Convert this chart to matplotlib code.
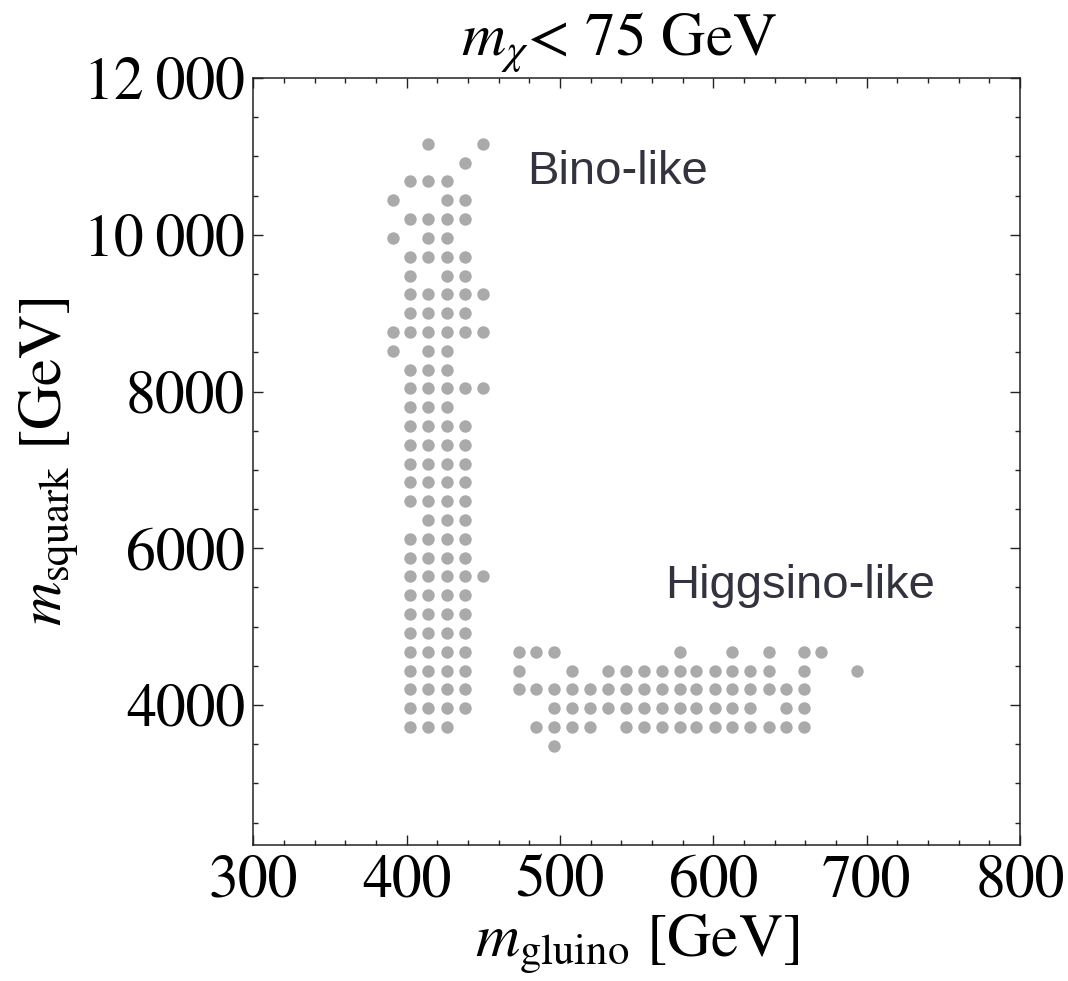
import matplotlib
matplotlib.use('Agg')
import matplotlib.pyplot as plt
from matplotlib.ticker import MultipleLocator, FuncFormatter

# gluino mass columns of the Bino-like block [GeV]
c0, c1, c2, c3, c4, c5 = 391, 402.5, 414, 426, 438, 449.5

# Bino-like points, one entry per squark-mass row
bino_squark = [3720, 3960, 4200, 4440, 4680, 4920, 5160, 5400, 5640, 5880,
               6120, 6360, 6600, 6840, 7080, 7320, 7560, 7800, 8040, 8280,
               8520, 8760, 9000, 9240, 9480, 9720, 9960, 10200, 10440, 10680,
               10920, 11160]
bino_gluino = [
    [c1, c2, c3],
    [c1, c2, c3, c4],
    [c1, c2, c3, c4],
    [c1, c2, c3, c4],
    [c1, c2, c3, c4],
    [c1, c2, c3, c4],
    [c1, c2, c3, c4],
    [c1, c2, c3, c4],
    [c1, c2, c3, c4, c5],
    [c1, c2, c3, c4],
    [c1, c2, c3, c4],
    [c2, c3, c4],
    [c1, c2, c3, c4],
    [c1, c2, c3, c4],
    [c1, c2, c3, c4],
    [c1, c2, c3, c4],
    [c1, c2, c3, c4],
    [c1, c2, c3],
    [c1, c2, c3, c4, c5],
    [c1, c2, c3],
    [c0, c2, c3],
    [c0, c1, c2, c3, c4, c5],
    [c1, c2, c3, c4],
    [c1, c2, c3, c4, c5],
    [c1, c3, c4],
    [c1, c2, c3, c4],
    [c0, c2, c3],
    [c1, c2, c3, c4],
    [c0, c3, c4],
    [c1, c2, c3],
    [c4],
    [c2, c5],
]

# Higgsino-like points
higgs_squark = [3480, 3720, 3960, 4200, 4440, 4680]
higgs_gluino = [
    [496],
    [484.5, 496, 508, 519.5, 543, 555, 566.5, 578, 589, 601, 612.5, 624, 636, 647.5, 659],
    [496, 508, 519.5, 531.5, 543, 555, 566.5, 578, 589, 601, 612.5, 624, 647.5, 659],
    [473, 484.5, 496, 508, 519.5, 531.5, 543, 555, 566.5, 578, 589, 601, 612.5, 624, 636, 647.5, 659],
    [473, 508, 531.5, 543, 555, 566.5, 578, 589, 601, 612.5, 624, 636, 659, 694],
    [473, 484.5, 496, 578, 612.5, 636, 659, 670.5],
]

def flatten(ys, xs_rows):
    px, py = [], []
    for y, xs in zip(ys, xs_rows):
        for x in xs:
            px.append(x)
            py.append(y)
    return px, py

plt.rcParams['font.family'] = ['STIXGeneral', 'DejaVu Serif']
plt.rcParams['mathtext.fontset'] = 'stix'

W, H = 1068, 981
fig = plt.figure(figsize=(W / 100, H / 100), dpi=100)
left, right, top, bottom = 253.3, 1020, 78, 845
ax = fig.add_axes([left / W, 1 - bottom / H, (right - left) / W, (bottom - top) / H])

for ys, xs in [(bino_squark, bino_gluino), (higgs_squark, higgs_gluino)]:
    px, py = flatten(ys, xs)
    ax.scatter(px, py, s=80, color='#aaaaaa', linewidths=0, zorder=3)

ax.set_xlim(300, 800)
ax.set_ylim(2214, 12000)

ax.xaxis.set_major_locator(MultipleLocator(100))
ax.xaxis.set_minor_locator(MultipleLocator(20))
ax.yaxis.set_major_locator(MultipleLocator(2000))
ax.yaxis.set_minor_locator(MultipleLocator(500))

def ytick_fmt(v, pos):
    v = int(round(v))
    if v >= 10000:
        return '%d\u2009%03d' % (v // 1000, v % 1000)
    return '%d' % v

ax.yaxis.set_major_formatter(FuncFormatter(ytick_fmt))

ax.tick_params(which='both', direction='in', top=True, right=True, width=1.0, color='#222222')
ax.tick_params(which='major', length=7)
ax.tick_params(which='minor', length=3.5)
ax.tick_params(axis='x', labelsize=43, pad=7)
ax.tick_params(axis='y', labelsize=43, pad=6)
for sp in ax.spines.values():
    sp.set_linewidth(1.1)
    sp.set_color('#222222')

ax.set_xlabel(r'$m_{\rm gluino}$ [GeV]', fontsize=44, labelpad=3)
ax.set_ylabel(r'$m_{\rm squark}$ [GeV]', fontsize=44, labelpad=2)

fig.text(619 / W, 1 - 55 / H, r'$m_\chi$< 75 GeV', ha='center', va='baseline', fontsize=44)

ax.text(478.4, 10800, 'Bino-like', fontsize=34, family='Liberation Sans',
        color='#33333f', va='center', ha='left')
ax.text(568.4, 5520, 'Higgsino-like', fontsize=34, family='Liberation Sans',
        color='#33333f', va='center', ha='left')

fig.savefig('out.png', dpi=100)
